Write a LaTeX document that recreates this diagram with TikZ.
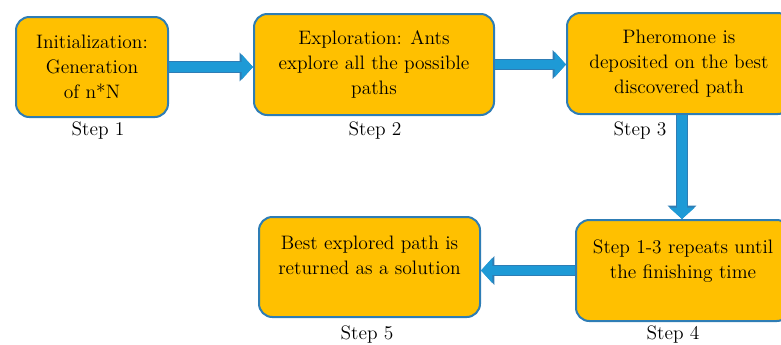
\documentclass[tikz,border=0pt]{standalone}
\usetikzlibrary{arrows.meta}

\definecolor{boxfill}{HTML}{FFC000}
\definecolor{boxline}{HTML}{2E7DB5}
\definecolor{arrowblue}{HTML}{1E9AD6}

\tikzset{
  stepbox/.style={draw=boxline,line width=1.5pt,fill=boxfill,rounded corners=10pt,
    align=center,inner sep=2pt,font=\fontsize{14.6}{18.75}\selectfont},
  steplbl/.style={font=\fontsize{14.6}{18.75}\selectfont,inner sep=0pt},
  flow/.style={preaction={draw=boxline,line width=8.8pt,
      -{Triangle[width=21pt,length=10pt]}},
    draw=arrowblue,line width=7pt,
    -{Triangle[width=18.5pt,length=8.5pt]}},
}

\begin{document}
\begin{tikzpicture}[x=0.75pt,y=-0.75pt]
\path[use as bounding box,clip] (0,0) rectangle (781,344);

\node [stepbox,minimum width=114pt,minimum height=75pt] (init) at (92,67)
  {Initialization:\\Generation\\of n*N}; %Step 1
\node [stepbox,minimum width=180pt,minimum height=75.75pt] (explore) at (374,64.5)
  {Exploration: Ants\\explore all the possible\\paths}; %Step 2
\node [stepbox,minimum width=168pt,minimum height=75.75pt] (deposit) at (679,63.5)
  {Pheromone is\\deposited on the best\\discovered path}; %Step 3
\node [stepbox,minimum width=160.5pt,minimum height=75.75pt,text depth=17pt] (repeat) at (683,270.5)
  {Step 1-3 repeats until\\the finishing time}; %Step 4
\node [stepbox,minimum width=165.75pt,minimum height=75pt,text depth=17pt] (result) at (369.5,267)
  {Best explored path is\\returned as a solution}; %Step 5

\node [steplbl] (s1) at (98,131) {Step 1};
\node [steplbl] (s2) at (375,131) {Step 2};
\node [steplbl] (s3) at (640,131) {Step 3};
\node [steplbl] (s4) at (673,335) {Step 4};
\node [steplbl] (s5) at (367,335) {Step 5};

\draw [flow] (init) -- (init -| explore.west);
\draw [flow] (explore) -- (explore -| deposit.west);
\draw [flow] (deposit.south -| 682,0) -- (repeat.north -| 682,0);
\draw [flow] (repeat) -- (repeat -| result.east);

\end{tikzpicture}
\end{document}
